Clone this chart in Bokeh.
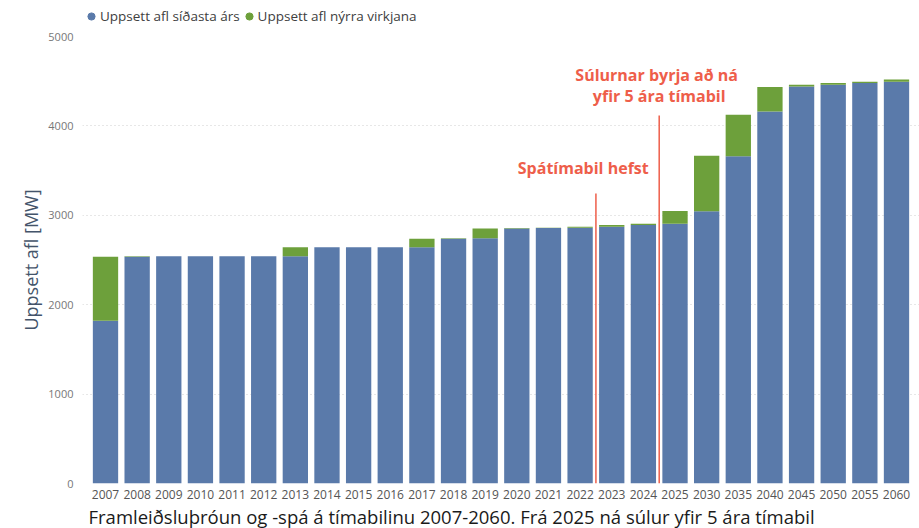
from bokeh.plotting import figure
from bokeh.layouts import column
from bokeh.models import (ColumnDataSource, Range1d, FixedTicker, Legend, LegendItem,
                          Label, Title)
from bokeh.embed import file_html
from bokeh.resources import INLINE

# ---- data ----
years = ["2007", "2008", "2009", "2010", "2011", "2012", "2013", "2014", "2015",
         "2016", "2017", "2018", "2019", "2020", "2021", "2022", "2023", "2024",
         "2025", "2030", "2035", "2040", "2045", "2050", "2055", "2060"]
prev_year = [1820, 2535, 2542, 2542, 2542, 2542, 2542, 2643, 2643, 2643, 2643,
             2739, 2743, 2851, 2858, 2862, 2871, 2891, 2905, 3045, 3660, 4161,
             4440, 4460, 4479, 4494]
new_plants = [715, 7, 0, 0, 0, 0, 101, 0, 0, 0, 96, 4, 108, 7, 4, 9, 20, 14,
              142, 620, 465, 275, 20, 19, 15, 26]
y_ticks = [0, 1000, 2000, 3000, 4000, 5000]
series_names = ["Uppsett afl síðasta árs", "Uppsett afl nýrra virkjana"]

BLUE = "#5A7AAA"
GREEN = "#6DA03B"
RED = "#EE5E4A"
FONT = "Open Sans"

idx = list(range(len(years)))
source = ColumnDataSource(dict(x=idx, prev=prev_year, new=new_plants))

# ---- legend strip on top ----
lf = figure(width=919, height=30, output_backend="svg", toolbar_location=None,
            x_range=Range1d(0, 1), y_range=Range1d(0, 1),
            min_border_left=69, min_border_right=0, min_border_top=0,
            min_border_bottom=0)
lf.axis.visible = False
lf.grid.visible = False
lf.outline_line_color = None
leg_src = ColumnDataSource(dict(x=[float("nan")], y=[float("nan")]))
r1 = lf.scatter(x="x", y="y", source=leg_src, marker="circle", size=8, color=BLUE)
r2 = lf.scatter(x="x", y="y", source=leg_src, marker="circle", size=8, color=GREEN)
legend = Legend(items=[LegendItem(label=series_names[0], renderers=[r1]),
                       LegendItem(label=series_names[1], renderers=[r2])],
                orientation="horizontal", location=(0, 5),
                glyph_width=18, glyph_height=18, label_standoff=0, spacing=0,
                padding=0, margin=0, border_line_alpha=0,
                background_fill_alpha=0, label_text_font=FONT,
                label_text_font_size="13.5px", label_text_color="#404040",
                label_height=18)
lf.add_layout(legend)

# ---- main chart ----
p = figure(width=919, height=498, output_backend="svg", toolbar_location=None,
           x_range=Range1d(-0.727, 25.727), y_range=Range1d(0, 5000),
           min_border_left=82, min_border_right=0, min_border_top=6,
           min_border_bottom=45)
p.outline_line_color = None
p.background_fill_color = "white"

p.vbar_stack(["prev", "new"], x="x", width=0.8, color=[BLUE, GREEN],
             line_color=None, source=source)

# forecast marker lines
line_src = ColumnDataSource(dict(x0=[15.5, 17.5], y0=[0, 0], x1=[15.5, 17.5],
                                 y1=[3245, 4117]))
p.segment(x0="x0", y0="y0", x1="x1", y1="y1", source=line_src,
          line_color=RED, line_width=1.5)

for txt, x, y in [("Spátímabil hefst", 15.1, 3525),
                  ("Súlurnar byrja að ná", 17.42, 4564),
                  ("yfir 5 ára tímabil", 17.5, 4340)]:
    p.add_layout(Label(x=x, y=y, text=txt, text_align="center",
                       text_baseline="middle", text_font=FONT,
                       text_font_style="bold", text_font_size="16px",
                       text_color=RED))

# axes
p.xaxis.ticker = FixedTicker(ticks=idx)
p.xaxis.major_label_overrides = {i: y for i, y in enumerate(years)}
p.xaxis.axis_line_color = None
p.xaxis.major_tick_line_color = None
p.xaxis.minor_tick_line_color = None
p.xaxis.major_tick_out = 0
p.xaxis.major_label_standoff = 6
p.xaxis.major_label_text_font = FONT
p.xaxis.major_label_text_font_size = "12px"
p.xaxis.major_label_text_color = "#555555"

p.yaxis.ticker = FixedTicker(ticks=y_ticks)
p.yaxis.axis_line_color = None
p.yaxis.major_tick_line_color = None
p.yaxis.minor_tick_line_color = None
p.yaxis.major_tick_out = 0
p.yaxis.major_label_standoff = 9
p.yaxis.major_label_text_font = FONT
p.yaxis.major_label_text_font_size = "11px"
p.yaxis.major_label_text_color = "#777777"
p.yaxis.axis_label = "Uppsett afl [MW]"
p.yaxis.axis_label_text_font = FONT
p.yaxis.axis_label_text_font_style = "normal"
p.yaxis.axis_label_text_font_size = "18px"
p.yaxis.axis_label_text_color = "#44546A"
p.yaxis.axis_label_standoff = 2

p.xgrid.grid_line_color = None
p.ygrid.grid_line_color = "#cfcfcf"
p.ygrid.grid_line_dash = "1 3"

p.add_layout(Title(text="Framleiðsluþróun og -spá á tímabilinu 2007-2060. "
                        "Frá 2025 ná súlur yfir 5 ára tímabil",
                   align="left", offset=6, text_font=FONT,
                   text_font_style="normal", text_font_size="18.5px",
                   text_color="#1A1A1A", standoff=0), "below")

layout = column(lf, p, spacing=0)
open("out.html", "w").write(file_html(layout, INLINE))
